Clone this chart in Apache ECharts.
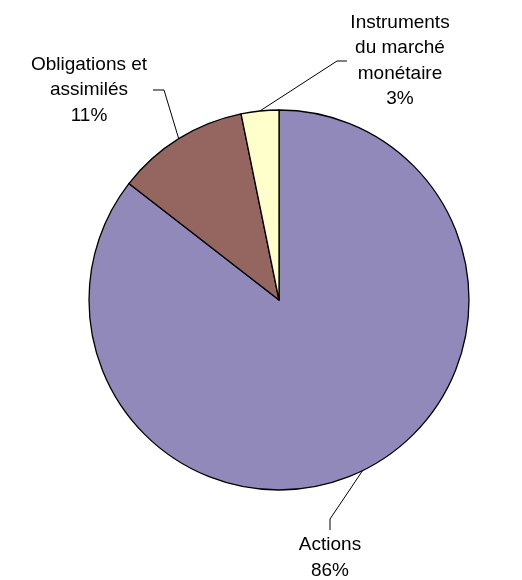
<!DOCTYPE html>
<html>
<head>
<meta charset="utf-8">
<script src="https://cdn.jsdelivr.net/npm/echarts@6/dist/echarts.min.js"></script>
<style>
html,body{margin:0;padding:0;background:#fff;}
#main{width:522px;height:580px;}
</style>
</head>
<body>
<div id="main"></div>
<script>
const categories = ['Actions', 'Obligations et\nassimilés', 'Instruments\ndu marché\nmonétaire'];
const values = [85.5, 11.3, 3.2];
const colors = ['#9189BA', '#956560', '#FFFFCC'];

// label anchor positions and leader-line bends (layout only)
const labelPos = [
  {x: 330, y: 558, bend: [[330, 519], [330, 530]]},
  {x: 89, y: 90, bend: [[164, 90], [153, 90]]},
  {x: 400, y: 61, bend: [[337, 61], [347, 61]]}
];

const total = values.reduce((a, b) => a + b, 0);
const chart = echarts.init(document.getElementById('main'), null, {renderer: 'canvas'});
chart.setOption({
  animation: false,
  backgroundColor: '#ffffff',
  series: [{
    type: 'pie',
    center: [279, 300],
    radius: 190,
    startAngle: 90,
    clockwise: true,
    avoidLabelOverlap: false,
    emphasis: {disabled: true},
    data: categories.map((c, i) => ({name: c, value: values[i], itemStyle: {color: colors[i]}})),
    itemStyle: {borderColor: '#000', borderWidth: 1.3},
    label: {
      show: true,
      position: 'outside',
      formatter: p => p.name + '\n' + Math.round(p.value / total * 100) + '%',
      fontFamily: 'Liberation Sans, Arial, sans-serif',
      fontSize: 19,
      lineHeight: 25.5,
      color: '#000',
      align: 'center'
    },
    labelLine: {show: true, length: 20, length2: 10, smooth: false, lineStyle: {color: '#000', width: 1}},
    labelLayout: function (params) {
      const lp = labelPos[params.dataIndex];
      const p0 = params.labelLinePoints ? params.labelLinePoints[0] : lp.bend[0];
      return {
        x: lp.x,
        y: lp.y,
        align: 'center',
        verticalAlign: 'middle',
        labelLinePoints: [p0, lp.bend[0], lp.bend[1]]
      };
    }
  }]
});
</script>
</body>
</html>
